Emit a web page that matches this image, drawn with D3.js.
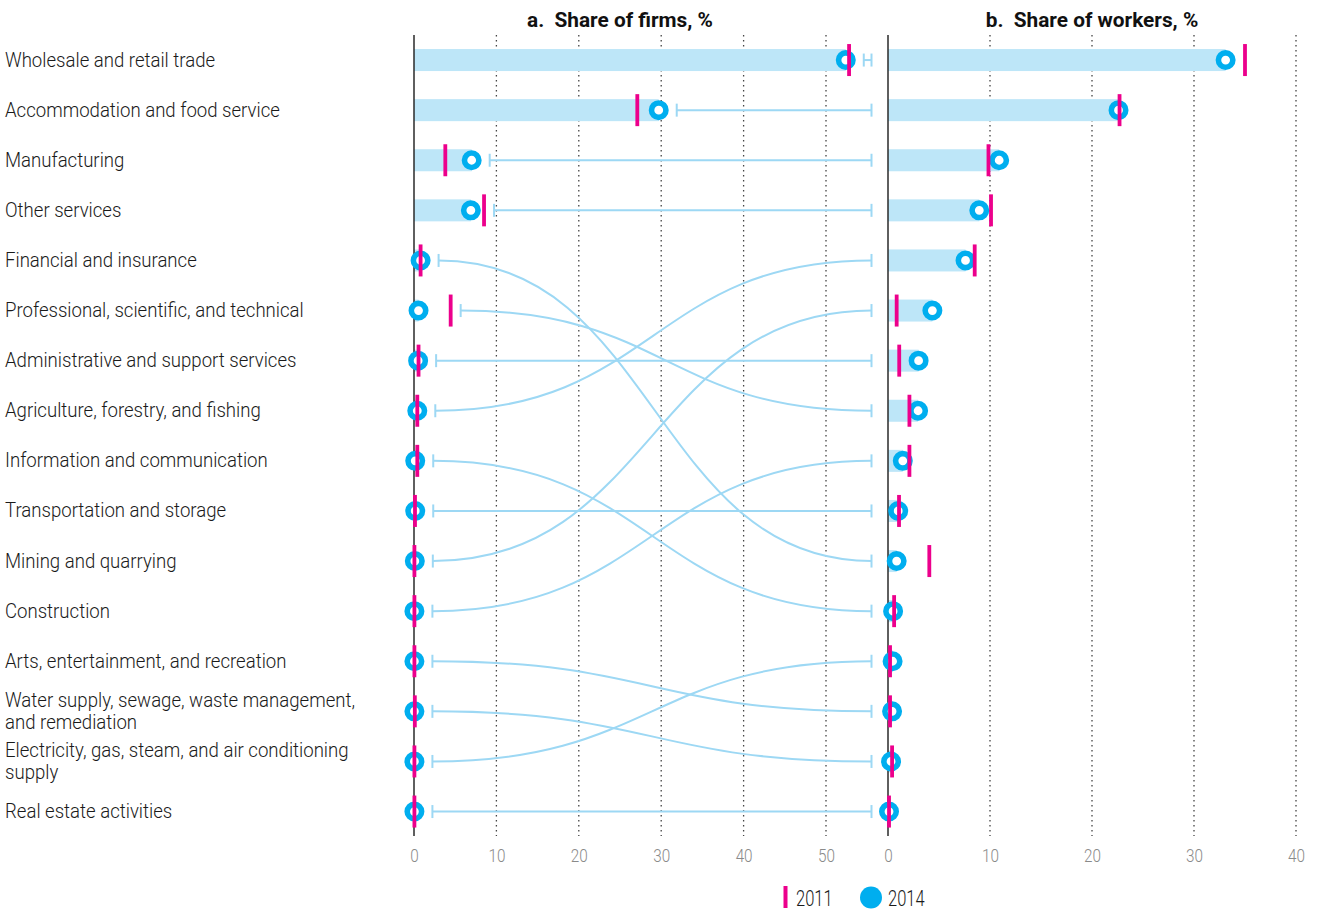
<!DOCTYPE html>
<html><head><meta charset="utf-8">
<script src="https://cdn.jsdelivr.net/npm/d3@7"></script>
<style>body{margin:0;background:#fff} svg{display:block}</style>
</head><body><svg id="chart" width="1317" height="911"></svg>
<script>
// ---------- data ----------
const categories = [
  "Wholesale and retail trade",
  "Accommodation and food service",
  "Manufacturing",
  "Other services",
  "Financial and insurance",
  "Professional, scientific, and technical",
  "Administrative and support services",
  "Agriculture, forestry, and fishing",
  "Information and communication",
  "Transportation and storage",
  "Mining and quarrying",
  "Construction",
  "Arts, entertainment, and recreation",
  "Water supply, sewage, waste management,\nand remediation",
  "Electricity, gas, steam, and air conditioning\nsupply",
  "Real estate activities"
];
const firms2011   = [52.8, 27.1, 3.8, 8.5, 0.8, 4.45, 0.55, 0.4, 0.4, 0.12, 0.05, 0.05, 0.05, 0.1, 0.05, 0.05];
const firms2014   = [52.4, 29.7, 7.0, 6.9, 0.8, 0.55, 0.5, 0.4, 0.15, 0.15, 0.1, 0.05, 0.05, 0.05, 0.05, 0.05];
const workers2011 = [35.0, 22.7, 9.85, 10.1, 4.05, 2.1, 1.1, 8.5, 0.6, 1.08, 0.85, 2.1, 0.2, 0.4, 0.2, 0.1];
const workers2014 = [33.1, 22.6, 10.9, 8.95, 0.85, 2.95, 3.0, 7.6, 0.5, 1.0, 4.35, 1.45, 0.4, 0.3, 0.45, 0.1];
const firmTicks = [0, 10, 20, 30, 40, 50];
const workerTicks = [0, 10, 20, 30, 40];
const years = ["2011", "2014"];
const panelTitles = ["a.\u00a0\u00a0Share of firms, %", "b.\u00a0\u00a0Share of workers, %"];

// ---------- setup ----------
const svg = d3.select("#chart");
const C = {bar:"#bde6f8", link:"#9dd8f4", circle:"#00aeef", pink:"#ec008c",
           grid:"#444", axis:"#2a2a2a", tick:"#8a8a8a", text:"#1a1a1a"};
const FONT = "Roboto, 'Noto Sans', sans-serif";
const yTop = 35, yBot = 836;

const idx = d3.range(categories.length);
const y = d3.scaleBand().domain(idx).range([35, 836.6]);
const yc = i => y(i) + y.bandwidth() / 2;
const rightOrder = idx.slice().sort((a, b) => workers2014[b] - workers2014[a]);
const rightRank = new Map(rightOrder.map((c, r) => [c, r]));

const xL = d3.scaleLinear().domain([0, 50]).range([414, 826]);
const xR = d3.scaleLinear().domain([0, 40]).range([888, 1296]);
const linkEnd = 871.5;

// ---------- gridlines ----------
function grid(x, ticks) {
  svg.append("g").selectAll("line").data(ticks.filter(t => t > 0)).join("line")
    .attr("x1", d => x(d)).attr("x2", d => x(d)).attr("y1", yTop).attr("y2", yBot)
    .attr("stroke", C.grid).attr("stroke-width", 1.3).attr("stroke-dasharray", "1.5,3.5");
}
grid(xL, firmTicks); grid(xR, workerTicks);

// ---------- bars ----------
const barH = 22;
svg.append("g").selectAll("rect").data(idx).join("rect")
  .attr("x", xL(0)).attr("y", i => yc(i) - barH / 2)
  .attr("width", i => xL(firms2014[i]) - xL(0)).attr("height", barH).attr("fill", C.bar);
svg.append("g").selectAll("rect").data(idx).join("rect")
  .attr("x", xR(0)).attr("y", i => yc(rightRank.get(i)) - barH / 2)
  .attr("width", i => xR(workers2014[i]) - xR(0)).attr("height", barH).attr("fill", C.bar);

// ---------- axis lines ----------
[xL, xR].forEach(x => {
  svg.append("line").attr("x1", x(0)).attr("x2", x(0)).attr("y1", yTop).attr("y2", yBot)
    .attr("stroke", C.axis).attr("stroke-width", 1.5);
});

// ---------- connectors ----------
const link = d3.linkHorizontal();
const gLinks = svg.append("g").attr("fill", "none").attr("stroke", C.link).attr("stroke-width", 2);
idx.forEach(i => {
  const sx = Math.max(xL(firms2014[i]) + 10, xL(firms2011[i]) + 2) + 8;
  const y0 = yc(i), y1 = yc(rightRank.get(i));
  gLinks.append("path").attr("d", link({source: [sx, y0], target: [linkEnd, y1]}));
  gLinks.append("line").attr("x1", sx).attr("x2", sx).attr("y1", y0 - 6.5).attr("y2", y0 + 6.5);
  gLinks.append("line").attr("x1", linkEnd).attr("x2", linkEnd).attr("y1", y1 - 6.5).attr("y2", y1 + 6.5);
});

// ---------- 2014 circles ----------
function circles(x, vals, rowOf) {
  svg.append("g").selectAll("circle").data(idx).join("circle")
    .attr("cx", i => x(vals[i])).attr("cy", i => yc(rowOf(i))).attr("r", 7.2)
    .attr("fill", "#fff").attr("stroke", C.circle).attr("stroke-width", 5.6);
}
circles(xL, firms2014, i => i);
circles(xR, workers2014, i => rightRank.get(i));

// ---------- 2011 ticks ----------
function pinks(x, vals, rowOf) {
  svg.append("g").selectAll("rect").data(idx).join("rect")
    .attr("x", i => x(vals[i]) - 1.9).attr("y", i => yc(rowOf(i)) - 16)
    .attr("width", 3.8).attr("height", 32).attr("fill", C.pink);
}
pinks(xL, firms2011, i => i);
pinks(xR, workers2011, i => rightRank.get(i));

// ---------- category labels ----------
const gLab = svg.append("g").attr("font-family", FONT).attr("font-size", 20)
  .attr("font-weight", 300).attr("fill", C.text);
idx.forEach(i => {
  const lines = categories[i].split("\n");
  const base = lines.length === 1 ? [yc(i) + 6.5] : [yc(i) - 4.5, yc(i) + 17.5];
  lines.forEach((t, k) => {
    gLab.append("text").attr("transform", `translate(5,${base[k]}) scale(0.93,1)`).text(t);
  });
});

// ---------- tick labels ----------
function axis(x, ticks) {
  const g = svg.append("g").attr("transform", "translate(0,862)")
    .call(d3.axisBottom(x).tickValues(ticks).tickSize(0).tickFormat(d3.format("d")));
  g.select(".domain").remove();
  g.selectAll("text").attr("y", 0).attr("dy", 0).attr("transform", "scale(0.85,1)")
    .attr("font-family", FONT).attr("font-size", 18).attr("font-weight", 300).attr("fill", C.tick);
}
axis(xL, firmTicks); axis(xR, workerTicks);

// ---------- titles ----------
[[xL, 25], [xR, 20]].forEach(([x, mid], k) => {
  svg.append("text").attr("x", x(mid)).attr("y", 26.5).attr("text-anchor", "middle")
    .attr("font-family", FONT).attr("font-size", 20.8).attr("font-weight", 700).attr("fill", "#111")
    .text(panelTitles[k]);
});

// ---------- legend ----------
const gLeg = svg.append("g").attr("font-family", FONT).attr("font-size", 22)
  .attr("font-weight", 300).attr("fill", C.text);
gLeg.append("rect").attr("x", 783.5).attr("y", 886).attr("width", 4).attr("height", 22).attr("fill", C.pink);
gLeg.append("text").attr("transform", "translate(796,906) scale(0.75,1)").text(years[0]);
gLeg.append("circle").attr("cx", 871).attr("cy", 897.5).attr("r", 11).attr("fill", C.circle);
gLeg.append("text").attr("transform", "translate(888,906) scale(0.75,1)").text(years[1]);
</script></body></html>
